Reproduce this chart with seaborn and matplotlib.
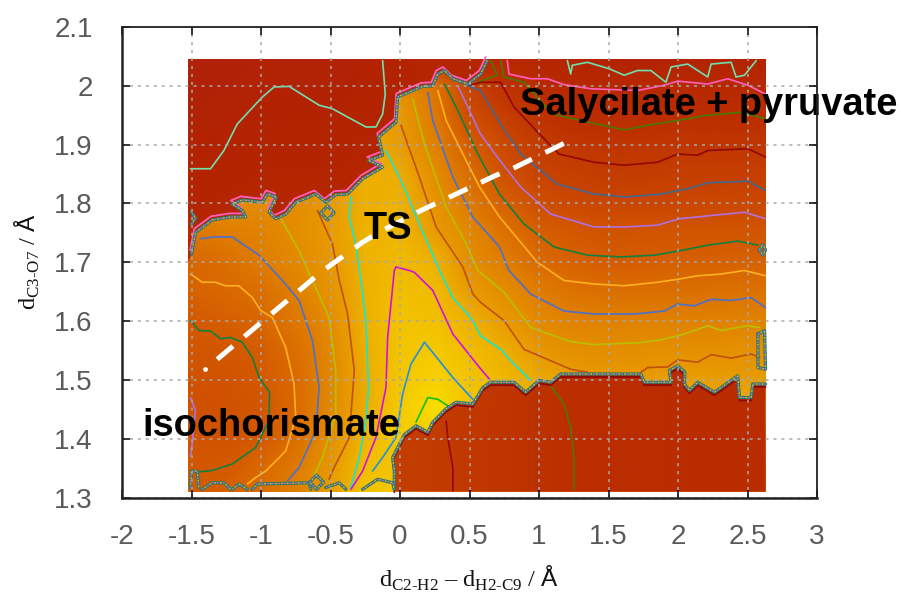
import numpy as np
import matplotlib
matplotlib.use("Agg")
import matplotlib.pyplot as plt
from matplotlib.colors import LinearSegmentedColormap, Normalize
from matplotlib.image import NonUniformImage
from matplotlib.patches import Polygon
import seaborn as sns

# ---------- colour field (contour-level units) ----------
GRID_X = [-1.525, -1.25, -1, -.75, -.5, -.25, 0, .25, .5, .75, 1, 1.25, 1.5, 2, 2.63]
GRID_Y = [1.31, 1.35, 1.4, 1.45, 1.5, 1.55, 1.6, 1.65, 1.7, 1.75, 1.8, 1.85, 1.9, 1.95, 2.0, 2.045]
F_131 = [7.2, 7.5, 8.2, 9.2, 11.2, 13.5, 14, 11, 9, 8, 8, 8, 8, 8, 8]
F_135 = [6.9, 7, 7.9, 8.8, 10.9, 13.2, 13.5, 11, 9, 8, 8, 8, 8, 8, 8]
F_140 = [6.5, 6.6, 7, 8.2, 10.2, 12.5, 14.2, 14, 12, 10, 10, 10, 10, 10, 10]
F_145 = [6.3, 6.4, 6.7, 8, 9.7, 11.8, 14, 15.2, 13.5, 12.5, 12, 12, 12, 12, 12]
F_150 = [6.4, 6.5, 7, 8, 9.7, 11.8, 13.8, 14.4, 13.6, 12.6, 11.7, 11.2, 11, 11.2, 11]
F_155 = [6.7, 6.9, 7.3, 8.3, 9.7, 11.9, 13.6, 13.9, 13, 11.9, 10.8, 10.2, 10.1, 10.2, 10.4]
F_160 = [7, 7.4, 7.8, 8.7, 10, 12, 13.5, 13.3, 12.1, 11, 9.8, 9.3, 9.2, 9.2, 9.4]
F_165 = [7.5, 7.9, 8.3, 9.2, 10.5, 12.1, 13.2, 12.9, 11.1, 10, 8.9, 8.4, 8.2, 8.3, 8.4]
F_170 = [7.8, 8.3, 8.9, 9.8, 10.9, 12.2, 12.9, 12.1, 10, 9, 8, 7.5, 7.2, 7.4, 7.6]
F_175 = [8.5, 9.1, 9.4, 10.1, 11.1, 12.2, 12.5, 11.1, 9.7, 8.4, 7.4, 6.9, 6.6, 6.7, 6.8]
F_180 = [10, 10, 10, 10, 11, 12, 12.2, 10.6, 8.8, 7.4, 6, 5.5, 5.4, 5.4, 5.5]
F_185 = [10, 10, 10, 10, 11, 12, 11.8, 10, 8.1, 6.3, 5, 4.75, 4.3, 4.55, 4.6]
F_190 = [10, 10, 10, 10, 11, 11.8, 11.1, 9.2, 7.2, 5.5, 4.3, 3.7, 3.5, 3.7, 3.7]
F_195 = [10, 10, 10, 10, 11, 11, 11, 8.7, 5.8, 4.5, 3.4, 2.8, 2.7, 2.9, 2.9]
F_200 = [10, 10, 10, 10, 10, 10, 10, 8.5, 5, 3.2, 2.4, 2, 1.85, 2.1, 2]
F_204 = [1, 1, 1, 1, 1, 1, 1, 1, 1.5, 2, 1.5, 1, .8, .8, .9]

UPPER_X = [-1.525, -1, -.5, 0, .25, .63]
UPPER_Y = [1.7, 1.85, 1.95, 2.045]
U_170 = [2, 2, 2, 2, 2, 2]
U_185 = [.95, 1.3, 1.4, 1.6, 1.7, 1.8]
U_195 = [.5, .85, .95, 1.2, 1.4, 1.6]
U_204 = [.3, .5, .5, 1.2, 1.5, 1.5]

LOWER_X = [-.06, .38, 1.25, 2.63]
LOWER_Y = [1.31, 1.53]
L_131 = [4.6, 4, 3, 2.7]
L_153 = [4.6, 4, 3, 2.7]

# ---------- contour lines ----------
MINT_A_X = [-1.507, -1.363, -1.267, -1.171, -.99, -.906, -.798, -.582, -.486, -.245, -.173, -.125, -.106, -.125]
MINT_A_Y = [1.859, 1.859, 1.89, 1.935, 1.981, 1.998, 1.999, 1.967, 1.961, 1.93, 1.93, 1.952, 1.986, 2.043]
MINT_B_X = [1.204, 1.228, 1.24, 1.349, 1.505, 1.613, 1.709, 1.805, 1.913, 1.95, 2.07, 2.214, 2.238, 2.382, 2.418, 2.478, 2.563]
MINT_B_Y = [2.043, 2.02, 2.035, 2.04, 2.029, 2.018, 2.026, 2.026, 2.006, 2.032, 2.037, 2.015, 2.037, 2.04, 2.015, 2.018, 2.043]
PINK_X = [.772, .784, .94, 1.06, 1.18, 1.373, 1.709, 1.901, 1.998, 2.214, 2.358, 2.502, 2.63]
PINK_Y = [2.043, 2.02, 2.012, 2.012, 2.002, 1.995, 1.992, 2.001, 2.008, 2.003, 2.012, 2.001, 1.986]
DOLIVE_A_X = [.56, .656, .7, .651]
DOLIVE_A_Y = [2.006, 2.015, 2.018, 2.043]
DOLIVE_B_X = [.724, .748, .892, 1.096, 1.3, 1.613, 1.781, 1.998, 2.214, 2.454, 2.63]
DOLIVE_B_Y = [2.043, 2.015, 2.006, 1.952, 1.941, 1.925, 1.933, 1.941, 1.95, 1.955, 1.944]
DOLIVE_C_X = [1.084, 1.18, 1.228, 1.252, 1.252]
DOLIVE_C_Y = [1.49, 1.459, 1.419, 1.368, 1.314]
DRED_A_X = [.5, .579, .724, .82, 1.012, 1.144, 1.397, 1.613, 1.853, 1.998, 2.142, 2.214, 2.502, 2.63]
DRED_A_Y = [2.0, 2.006, 2.006, 1.964, 1.916, 1.884, 1.87, 1.865, 1.87, 1.884, 1.882, 1.89, 1.893, 1.879]
DRED_B_X = [.332, .344, .38, .38]
DRED_B_Y = [1.43, 1.402, 1.351, 1.311]
STEEL_X = [.488, .579, .724, .868, 1.132, 1.397, 1.613, 1.877, 2.07, 2.214, 2.502, 2.63]
STEEL_Y = [2.0, 1.992, 1.935, 1.884, 1.833, 1.816, 1.811, 1.816, 1.825, 1.835, 1.838, 1.822]
PURPLE_A_X = [.416, .5, .579, .7, .868, 1.084, 1.397, 1.613, 1.853, 2.01, 2.262, 2.478, 2.63]
PURPLE_A_Y = [2.0, 1.958, 1.918, 1.879, 1.828, 1.782, 1.76, 1.76, 1.763, 1.774, 1.78, 1.785, 1.774]
PURPLE_B_X = [-1.507, -1.471, -1.495, -1.507]
PURPLE_B_Y = [1.47, 1.448, 1.391, 1.37]
GREEN_A_X = [.32, .416, .56, .716, .892, 1.108, 1.349, 1.589, 1.829, 2.022, 2.214, 2.43, 2.575]
GREEN_A_Y = [2.003, 1.958, 1.884, 1.816, 1.765, 1.726, 1.712, 1.709, 1.712, 1.72, 1.729, 1.736, 1.729]
GREEN_B_X = [-1.507, -1.447, -1.363, -1.291, -1.219, -1.135, -1.062, -1.014, -.938, -.942, -1.038, -1.207, -1.351, -1.471]
GREEN_B_Y = [1.601, 1.584, 1.583, 1.57, 1.572, 1.564, 1.538, 1.504, 1.479, 1.431, 1.385, 1.357, 1.346, 1.343]
ORANGE_A_X = [.272, .332, .452, .572, .716, .988, 1.18, 1.397, 1.613, 1.853, 1.998, 2.142, 2.31, 2.478, 2.63]
ORANGE_A_Y = [1.992, 1.941, 1.884, 1.828, 1.777, 1.7, 1.669, 1.663, 1.66, 1.666, 1.671, 1.677, 1.68, 1.686, 1.677]
ORANGE_B_X = [-1.507, -1.423, -1.327, -1.255, -1.159, -1.062, -1.002, -.918, -.822, -.762, -.75, -.822, -.966, -1.038, -1.099]
ORANGE_B_Y = [1.68, 1.666, 1.666, 1.66, 1.66, 1.64, 1.618, 1.606, 1.555, 1.493, 1.436, 1.379, 1.345, 1.334, 1.323]
BLUE_A_X = [.2, .236, .38, .524, .716, .784, .94, 1.18, 1.397, 1.685, 1.901, 1.998, 2.118, 2.238, 2.382, 2.526, 2.63]
BLUE_A_Y = [1.989, 1.941, 1.845, 1.777, 1.726, 1.686, 1.646, 1.617, 1.612, 1.612, 1.617, 1.629, 1.626, 1.637, 1.635, 1.64, 1.623]
BLUE_B_X = [-1.435, -1.339, -1.207, -1.014, -.846, -.726, -.63, -.582, -.606, -.726, -.81]
BLUE_B_Y = [1.74, 1.743, 1.743, 1.712, 1.669, 1.635, 1.567, 1.487, 1.413, 1.351, 1.328]
OLIVE_A_X = [.091, .176, .332, .476, .56, .748, .94, 1.228, 1.397, 1.709, 1.877, 2.046, 2.214, 2.31, 2.502, 2.587]
OLIVE_A_Y = [1.978, 1.901, 1.794, 1.731, 1.686, 1.649, 1.589, 1.565, 1.56, 1.563, 1.568, 1.578, 1.592, 1.584, 1.592, 1.589]
OLIVE_B_X = [-.858, -.726, -.63, -.51, -.462, -.462, -.558, -.63]
OLIVE_B_Y = [1.774, 1.72, 1.669, 1.606, 1.516, 1.441, 1.368, 1.331]
BROWN_A_X = [.007, .139, .26, .452, .524, .579, .748, .892, 1.06, 1.228, 1.349]
BROWN_A_Y = [1.933, 1.845, 1.76, 1.692, 1.646, 1.632, 1.601, 1.552, 1.535, 1.518, 1.513]
BROWN_B_X = [1.733, 1.781, 1.925, 1.998, 2.142, 2.238, 2.382, 2.526, 2.587]
BROWN_B_Y = [1.513, 1.521, 1.522, 1.534, 1.53, 1.543, 1.537, 1.544, 1.538]
BROWN_C_X = [-.594, -.486, -.437, -.377, -.329, -.365, -.486, -.51]
BROWN_C_Y = [1.788, 1.731, 1.669, 1.612, 1.516, 1.402, 1.345, 1.331]
CYAN_A_X = [-.101, .019, .139, .296, .38, .524, .579, .724, .82, .94]
CYAN_A_Y = [1.89, 1.833, 1.765, 1.68, 1.64, 1.601, 1.575, 1.552, 1.527, 1.499]
CYAN_B_X = [-.353, -.365, -.317, -.281, -.245, -.226, -.245, -.293, -.353]
CYAN_B_Y = [1.811, 1.777, 1.731, 1.669, 1.601, 1.487, 1.43, 1.368, 1.317]
MAGENTA_X = [-.353, -.269, -.173, -.101, -.089, -.041, -.029, .067, .103, .236, .38, .572, .644]
MAGENTA_Y = [1.314, 1.345, 1.402, 1.487, 1.572, 1.686, 1.692, 1.686, 1.683, 1.652, 1.578, 1.521, 1.501]
SKY_X = [-.197, -.125, -.029, .019, .079, .176, .38, .5, .524]
SKY_Y = [1.345, 1.368, 1.402, 1.476, 1.527, 1.564, 1.504, 1.473, 1.467]
LIME_X = [.115, .2, .272, .344]
LIME_Y = [1.428, 1.47, 1.467, 1.456]

# ---------- stacked contours along the walls ----------
WALL_TOP_X = [-1.5, -1.47, -1.351, -1.219, -1.11, -1.135, -1.207, -1.135, -.99, -.954, -.89, -.942, -.894, -.822, -.75, -.606, -.534, -.462, -.377, -.269, -.125, -.226, -.125, -.154, -.029, -.017, .163, .236, .27, .32, .38, .488, .58, .627]
WALL_TOP_Y = [1.714, 1.751, 1.772, 1.777, 1.777, 1.788, 1.799, 1.806, 1.802, 1.816, 1.811, 1.785, 1.774, 1.782, 1.802, 1.816, 1.802, 1.815, 1.816, 1.842, 1.862, 1.873, 1.882, 1.913, 1.938, 1.981, 1.999, 2.0, 2.02, 2.026, 2.012, 2.003, 2.02, 2.043]
WALL_LOW_X = [-.041, -.041, -.053, .007, .031, .115, .2, .236, .332, .404, .524, .596, .651, .82, .904, 1.0, 1.084, 1.156, 1.733, 1.757, 1.95, 1.938, 1.998, 2.05, 2.046, 2.082, 2.142, 2.262, 2.43, 2.442, 2.526, 2.538, 2.63]
WALL_LOW_Y = [1.314, 1.345, 1.368, 1.396, 1.407, 1.422, 1.411, 1.428, 1.451, 1.462, 1.459, 1.487, 1.496, 1.496, 1.479, 1.499, 1.496, 1.51, 1.51, 1.496, 1.496, 1.516, 1.524, 1.513, 1.493, 1.482, 1.496, 1.479, 1.507, 1.47, 1.47, 1.493, 1.493]
ARC_1_X = [-1.507, -1.5, -1.459, -1.447]
ARC_1_Y = [1.317, 1.345, 1.345, 1.317]
ARC_2_X = [-1.423, -1.351, -1.267, -1.219]
ARC_2_Y = [1.314, 1.325, 1.325, 1.314]
ARC_3_X = [-1.207, -1.159, -1.099]
ARC_3_Y = [1.314, 1.323, 1.314]
ARC_4_X = [-1.063, -1.027, -.654, -.642]
ARC_4_Y = [1.314, 1.323, 1.325, 1.314]
ARC_5_X = [-.65, -.601, -.55, -.601, -.65]
ARC_5_Y = [1.326, 1.338, 1.326, 1.314, 1.326]
ARC_6_X = [-.534, -.437, -.389]
ARC_6_Y = [1.317, 1.325, 1.314]
ARC_7_X = [-.269, -.161, -.053, -.041]
ARC_7_Y = [1.314, 1.331, 1.325, 1.314]
ISLAND_1_X = [-.57, -.522, -.474, -.522, -.57]
ISLAND_1_Y = [1.784, 1.796, 1.784, 1.772, 1.784]
ISLAND_2_X = [2.575, 2.623, 2.63, 2.575, 2.575]
ISLAND_2_Y = [1.578, 1.584, 1.518, 1.521, 1.578]
ISLAND_3_X = [2.585, 2.61, 2.63, 2.61, 2.585]
ISLAND_3_Y = [1.721, 1.73, 1.721, 1.712, 1.721]
ISLAND_4_X = [-1.5, -1.47, -1.5]
ISLAND_4_Y = [1.765, 1.775, 1.785]

PATH_X = [-1.315, -.654, -.57, -.269, -.149, .151, .692, .808, 1.248]
PATH_Y = [1.535, 1.666, 1.683, 1.734, 1.751, 1.788, 1.848, 1.859, 1.91]
PATH_DOT_X = [-1.404]
PATH_DOT_Y = [1.518]

X_TICKS = [-2, -1.5, -1, -.5, 0, .5, 1, 1.5, 2, 2.5, 3]
X_LABELS = ["-2", "-1.5", "-1", "-0.5", "0", "0.5", "1", "1.5", "2", "2.5", "3"]
Y_TICKS = [1.3, 1.4, 1.5, 1.6, 1.7, 1.8, 1.9, 2, 2.1]
Y_LABELS = ["1.3", "1.4", "1.5", "1.6", "1.7", "1.8", "1.9", "2", "2.1"]

# ---------- drawing ----------
sns.set_style("white")
plt.rcParams["font.family"] = ["Liberation Sans", "DejaVu Sans"]
plt.rcParams["mathtext.fontset"] = "custom"
plt.rcParams["mathtext.rm"] = "Liberation Serif"
plt.rcParams["mathtext.sf"] = "Liberation Sans"

fig = plt.figure(figsize=(9.01, 5.95), dpi=100)
ax = fig.add_axes([122 / 901, (595 - 497.5) / 595, 695 / 901, 470.5 / 595])
ax.set_xlim(-2, 3)
ax.set_ylim(1.3, 2.1)

stops = [(0, "#B0200F"), (1, "#B42400"), (2, "#B82800"), (3, "#BC2E00"), (4, "#C23A00"),
         (5, "#C84200"), (6, "#CE4E00"), (7, "#D45800"), (8, "#DA6A00"), (9, "#E07E00"),
         (10, "#E48C00"), (11, "#E89A00"), (12, "#EEB000"), (13, "#F1BC00"), (14, "#F5CA00"),
         (15, "#FBDC00"), (16, "#FFE800")]
cmap = LinearSegmentedColormap.from_list("field", [(v / 16, c) for v, c in stops])
norm = Normalize(0, 16)


def field(xs, ys, rows, clip, z):
    im = NonUniformImage(ax, interpolation="bilinear", cmap=cmap, norm=norm)
    im.set_data(np.array(xs), np.array(ys), np.array(rows, dtype=float))
    im.set_zorder(z)
    ax.add_image(im)
    patch = Polygon(clip, transform=ax.transData, fill=False, edgecolor="none")
    ax.add_patch(patch)
    im.set_clip_path(patch)


field(GRID_X, GRID_Y,
      [F_131, F_135, F_140, F_145, F_150, F_155, F_160, F_165, F_170, F_175, F_180, F_185, F_190, F_195, F_200, F_204],
      [(-1.525, 1.31), (2.63, 1.31), (2.63, 2.045), (-1.525, 2.045)], 1)
field(UPPER_X, UPPER_Y, [U_170, U_185, U_195, U_204],
      list(zip(WALL_TOP_X, WALL_TOP_Y)) + [(.627, 2.045), (-1.525, 2.045), (-1.525, 1.7), (-1.5, 1.714)], 1.2)
field(LOWER_X, LOWER_Y, [L_131, L_153],
      list(zip(WALL_LOW_X, WALL_LOW_Y)) + [(2.63, 1.31), (-.041, 1.31)], 1.2)


def trace(xs, ys, color, lw=1.2, **kw):
    sns.lineplot(x=xs, y=ys, color=color, linewidth=lw, sort=False, estimator=None,
                 errorbar=None, legend=False, ax=ax, **kw)


LIME, SKY, MAG, CYAN = "#10C000", "#2090E0", "#D010E0", "#10E8D8"
BROWN, OLIVE, BLUE, ORANGE = "#C05010", "#B8C000", "#4A70D0", "#FFB020"
GREEN, PURPLE, STEEL, DRED = "#108040", "#B070E0", "#406890", "#900808"
DOLIVE, PINK, MINT = "#4A7A00", "#FF60C0", "#70E0B0"

for xs, ys, col in [
    (MINT_A_X, MINT_A_Y, MINT), (MINT_B_X, MINT_B_Y, MINT), (PINK_X, PINK_Y, PINK),
    (DOLIVE_A_X, DOLIVE_A_Y, DOLIVE), (DOLIVE_B_X, DOLIVE_B_Y, DOLIVE), (DOLIVE_C_X, DOLIVE_C_Y, DOLIVE),
    (DRED_A_X, DRED_A_Y, DRED), (DRED_B_X, DRED_B_Y, DRED), (STEEL_X, STEEL_Y, STEEL),
    (PURPLE_A_X, PURPLE_A_Y, PURPLE), (PURPLE_B_X, PURPLE_B_Y, PURPLE),
    (GREEN_A_X, GREEN_A_Y, GREEN), (GREEN_B_X, GREEN_B_Y, GREEN),
    (ORANGE_A_X, ORANGE_A_Y, ORANGE), (ORANGE_B_X, ORANGE_B_Y, ORANGE),
    (BLUE_A_X, BLUE_A_Y, BLUE), (BLUE_B_X, BLUE_B_Y, BLUE),
    (OLIVE_A_X, OLIVE_A_Y, OLIVE), (OLIVE_B_X, OLIVE_B_Y, OLIVE),
    (BROWN_A_X, BROWN_A_Y, BROWN), (BROWN_B_X, BROWN_B_Y, BROWN), (BROWN_C_X, BROWN_C_Y, BROWN),
    (CYAN_A_X, CYAN_A_Y, CYAN), (CYAN_B_X, CYAN_B_Y, CYAN),
    (MAGENTA_X, MAGENTA_Y, MAG), (SKY_X, SKY_Y, SKY), (LIME_X, LIME_Y, LIME),
]:
    trace(xs, ys, col)


def wall(xs, ys, outer, shift=(0, 0)):
    xs, ys = np.array(xs), np.array(ys)
    trace(xs + shift[0], ys + shift[1], outer, lw=1.3)
    trace(xs, ys, "#2A7A68", lw=2.3)
    trace(xs, ys, PURPLE, lw=.9, linestyle=(0, (1.5, 3)))
    trace(xs, ys, ORANGE, lw=.9, linestyle=(2.2, (1.5, 3)))


wall(WALL_TOP_X, WALL_TOP_Y, PINK, (-.01, .006))
wall(WALL_LOW_X, WALL_LOW_Y, DRED, (0, -.005))
for xs, ys in [(ARC_1_X, ARC_1_Y), (ARC_2_X, ARC_2_Y), (ARC_3_X, ARC_3_Y), (ARC_4_X, ARC_4_Y),
               (ARC_5_X, ARC_5_Y), (ARC_6_X, ARC_6_Y), (ARC_7_X, ARC_7_Y), (ISLAND_1_X, ISLAND_1_Y),
               (ISLAND_2_X, ISLAND_2_Y), (ISLAND_3_X, ISLAND_3_Y), (ISLAND_4_X, ISLAND_4_Y)]:
    wall(xs, ys, PINK)

ax.set_axisbelow(False)
ax.grid(True, color="#a9a9a9", linewidth=1.1, linestyle=(0, (2, 3.2)))

sns.lineplot(x=PATH_X, y=PATH_Y, color="white", linewidth=3.6, sort=False, estimator=None, errorbar=None,
             legend=False, ax=ax, linestyle=(0, (4.1, 3.0)), zorder=4, dash_capstyle="butt")
ax.scatter(PATH_DOT_X, PATH_DOT_Y, s=12, color="white", zorder=4, linewidths=0)

ax.text(.863, 1.95, "Salycilate + pyruvate", fontsize=27.4, fontweight="bold", color="black", zorder=5)
ax.text(-1.856, 1.404, "isochorismate", fontsize=27.4, fontweight="bold", color="black", zorder=5)
ax.text(-.259, 1.739, "TS", fontsize=27.4, fontweight="bold", color="black", zorder=5)

ax.set_xlim(-2, 3)
ax.set_ylim(1.3, 2.1)
ax.set_xticks(X_TICKS, X_LABELS)
ax.set_yticks(Y_TICKS, Y_LABELS)
ax.tick_params(axis="both", which="major", direction="in", length=6, width=1.1, color="black",
               top=True, right=True, bottom=True, left=True, labelsize=20, labelcolor="#5a5a5a")
ax.tick_params(axis="x", pad=19)
ax.tick_params(axis="y", pad=21)
for side, sp in ax.spines.items():
    sp.set_visible(True)
    sp.set_color("#222222")
    sp.set_linewidth(1.8 if side in ("left", "bottom") else 1.3)
    sp.set_zorder(6)

fig.text(469 / 901, 1 - 578 / 595, r"d$_{\mathrm{C2\text{-}H2}}$ – d$_{\mathrm{H2\text{-}C9}}$ / $\mathsf{Å}$",
         fontsize=17.5, family=["Liberation Serif", "DejaVu Serif"], ha="center", va="center", color="#111111")
fig.text(27 / 901, 1 - 262 / 595, r"d$_{\mathrm{C3\text{-}O7}}$ / $\mathsf{Å}$", rotation=90,
         fontsize=17.5, family=["Liberation Serif", "DejaVu Serif"], ha="center", va="center", color="#111111")

fig.savefig("out.png", dpi=100, facecolor="white")
